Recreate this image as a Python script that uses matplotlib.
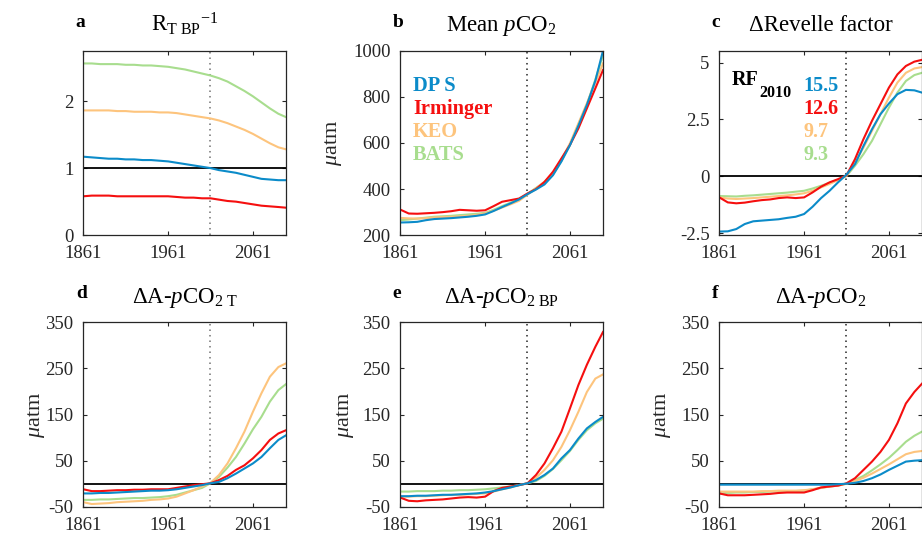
import matplotlib.pyplot as plt

plt.rcParams['font.family'] = 'Liberation Serif'
plt.rcParams['mathtext.fontset'] = 'custom'
plt.rcParams['mathtext.rm'] = 'Liberation Serif'
plt.rcParams['mathtext.it'] = 'Liberation Serif:italic'
plt.rcParams['mathtext.bf'] = 'Liberation Serif:bold'
plt.rcParams['axes.unicode_minus'] = False

# years of the model output (read every 10 yr)
years = [1861, 1871, 1881, 1891, 1901, 1911, 1921, 1931, 1941, 1951, 1961, 1971,
         1981, 1991, 2001, 2011, 2021, 2031, 2041, 2051, 2061, 2071, 2081, 2091, 2100]

sites = ['DP S', 'Irminger', 'KEO', 'BATS']
site_colors = ['#0b8bc9', '#f50f0f', '#fdc47d', '#a8dd8e']
rf2010 = ['15.5', '12.6', '9.7', '9.3']

# a: R_T BP^-1
a_dps = [1.17, 1.16, 1.15, 1.14, 1.14, 1.13, 1.13, 1.12, 1.12, 1.11, 1.10, 1.08,
         1.06, 1.04, 1.02, 1.00, 0.97, 0.95, 0.93, 0.90, 0.87, 0.84, 0.83, 0.82, 0.82]
a_irm = [0.58, 0.59, 0.59, 0.59, 0.58, 0.58, 0.58, 0.58, 0.58, 0.58, 0.58, 0.57,
         0.56, 0.56, 0.55, 0.55, 0.53, 0.51, 0.50, 0.48, 0.46, 0.44, 0.43, 0.42, 0.41]
a_keo = [1.86, 1.86, 1.86, 1.86, 1.85, 1.85, 1.84, 1.84, 1.84, 1.83, 1.83, 1.82,
         1.80, 1.78, 1.76, 1.74, 1.71, 1.67, 1.62, 1.57, 1.51, 1.44, 1.37, 1.31, 1.28]
a_bats = [2.56, 2.56, 2.55, 2.55, 2.55, 2.54, 2.54, 2.53, 2.53, 2.52, 2.51, 2.49,
          2.47, 2.44, 2.41, 2.38, 2.34, 2.29, 2.22, 2.15, 2.07, 1.98, 1.89, 1.81, 1.76]

# b: mean pCO2
b_dps = [255, 256, 258, 265, 270, 272, 274, 277, 280, 284, 290, 305,
         322, 338, 355, 378, 398, 420, 460, 520, 590, 675, 765, 870, 1000]
b_irm = [311, 294, 293, 295, 297, 300, 304, 310, 308, 306, 308, 326,
         345, 352, 359, 381, 400, 431, 475, 533, 591, 663, 750, 837, 916]
b_keo = [275, 273, 272, 274, 277, 279, 280, 282, 284, 288, 294, 306,
         320, 334, 349, 376, 403, 432, 468, 528, 598, 685, 772, 862, 945]
b_bats = [265, 268, 272, 276, 280, 282, 284, 287, 290, 293, 297, 310,
          326, 341, 356, 379, 405, 430, 463, 522, 591, 680, 767, 875, 981]

# c: delta Revelle factor
c_dps = [-2.42, -2.41, -2.31, -2.09, -1.97, -1.94, -1.91, -1.88, -1.82, -1.77, -1.65, -1.33,
         -0.95, -0.63, -0.26, 0.08, 0.54, 1.34, 2.07, 2.73, 3.20, 3.61, 3.80, 3.78, 3.68]
c_irm = [-0.92, -1.14, -1.18, -1.15, -1.09, -1.04, -1.01, -0.95, -0.92, -0.95, -0.92, -0.70,
         -0.45, -0.26, -0.12, 0.05, 0.76, 1.64, 2.44, 3.17, 3.90, 4.48, 4.85, 5.04, 5.12]
c_keo = [-0.92, -0.97, -0.99, -0.97, -0.95, -0.92, -0.89, -0.86, -0.83, -0.79, -0.74, -0.63,
         -0.48, -0.33, -0.16, 0.03, 0.61, 1.27, 2.00, 2.73, 3.46, 4.12, 4.55, 4.74, 4.80]
c_bats = [-0.86, -0.87, -0.88, -0.85, -0.83, -0.80, -0.77, -0.74, -0.71, -0.67, -0.63, -0.53,
          -0.41, -0.28, -0.15, 0.02, 0.47, 0.98, 1.56, 2.29, 3.02, 3.68, 4.19, 4.45, 4.55]

# d: delta A-pCO2 T
d_dps = [-21, -21, -20, -20, -19, -18, -17, -16, -15, -15, -14, -12,
         -9, -6, -3, 1, 4, 12, 22, 33, 44, 58, 77, 95, 105]
d_irm = [-12, -16, -16, -15, -14, -14, -13, -13, -12, -12, -12, -9,
         -6, -3, -1, 1, 8, 17, 30, 40, 55, 73, 95, 109, 116]
d_keo = [-40, -44, -43, -42, -40, -39, -38, -37, -35, -34, -32, -28,
         -21, -14, -6, 2, 19, 44, 77, 113, 156, 196, 232, 253, 261]
d_bats = [-35, -35, -34, -34, -33, -32, -31, -31, -30, -29, -27, -24,
          -19, -14, -9, 1, 15, 35, 58, 87, 118, 145, 178, 203, 216]

# e: delta A-pCO2 BP
e_dps = [-27, -27, -26, -26, -25, -24, -24, -23, -22, -21, -19, -16,
         -12, -8, -3, 1, 8, 19, 33, 55, 73, 98, 120, 134, 145]
e_irm = [-30, -37, -38, -36, -35, -34, -32, -30, -29, -30, -28, -16,
         -9, -6, -3, 1, 19, 44, 77, 113, 163, 214, 258, 297, 329]
e_keo = [-28, -28, -27, -27, -26, -25, -24, -24, -23, -22, -21, -17,
         -12, -8, -3, 1, 13, 30, 51, 80, 116, 156, 199, 228, 237]
e_bats = [-17, -17, -16, -16, -16, -15, -15, -14, -14, -13, -12, -10,
          -8, -6, -3, 1, 6, 17, 32, 51, 71, 95, 116, 131, 141]

# f: delta A-pCO2
f_dps = [-2, -2, -2, -2, -2, -2, -2, -2, -2, -2, -2, -2,
         -2, -2, -1, 0, 2, 6, 12, 20, 30, 39, 48, 50, 51]
f_irm = [-21, -25, -25, -25, -24, -23, -22, -20, -19, -19, -19, -14,
         -8, -6, -4, 1, 12, 30, 48, 69, 95, 131, 174, 199, 217]
f_keo = [-17, -17, -17, -17, -17, -16, -16, -15, -15, -15, -14, -12,
         -9, -6, -4, 0, 6, 13, 22, 32, 42, 53, 64, 69, 71]
f_bats = [-21, -20, -19, -19, -18, -18, -17, -17, -16, -16, -15, -12,
          -9, -6, -4, 0, 8, 17, 29, 42, 56, 73, 91, 104, 113]

dapco2_ticks = [-50, 50, 150, 250, 350]

panels = [
    dict(letter='a', title=r'R$_{\mathrm{T\ BP}}$$^{\mathrm{-1}}$',
         series=[a_dps, a_irm, a_keo, a_bats], ylim=(0, 2.75),
         yticks=[0, 1, 2], yticklabels=['0', '1', '2'], hline=1, ylabel=None,
         dotcolor='0.45', pos=(83.3, 50.7)),
    dict(letter='b', title=r'Mean $p$CO$_2$',
         series=[b_dps, b_irm, b_keo, b_bats], ylim=(200, 1000),
         yticks=[200, 400, 600, 800, 1000], yticklabels=None, hline=None,
         ylabel=333, dotcolor='0.15', pos=(400.3, 50.7)),
    dict(letter='c', title='ΔRevelle factor',
         series=[c_dps, c_irm, c_keo, c_bats], ylim=(-2.58, 5.52),
         yticks=[-2.5, 0, 2.5, 5], yticklabels=['-2.5', '0', '2.5', '5'], hline=0,
         ylabel=None, dotcolor='0.15', pos=(719.3, 50.7)),
    dict(letter='d', title=r'ΔA-$p$CO$_{2\ \mathrm{T}}$',
         series=[d_dps, d_irm, d_keo, d_bats], ylim=(-50, 350),
         yticks=dapco2_ticks, yticklabels=None, hline=0, ylabel=36,
         dotcolor='0.45', pos=(83.3, 322.3)),
    dict(letter='e', title=r'ΔA-$p$CO$_{2\ \mathrm{BP}}$',
         series=[e_dps, e_irm, e_keo, e_bats], ylim=(-50, 350),
         yticks=dapco2_ticks, yticklabels=None, hline=0, ylabel=345,
         dotcolor='0.15', pos=(400.3, 322.3)),
    dict(letter='f', title=r'ΔA-$p$CO$_2$',
         series=[f_dps, f_irm, f_keo, f_bats], ylim=(-50, 350),
         yticks=dapco2_ticks, yticklabels=None, hline=0, ylabel=662,
         dotcolor='0.15', pos=(719.3, 322.3)),
]

W, H = 922, 541
AX_W, AX_H = 202.7, 184.5
dark = '#262626'

fig = plt.figure(figsize=(W / 100, H / 100), dpi=100)

for p in panels:
    left, top = p['pos']
    ax = fig.add_axes([left / W, 1 - (top + AX_H) / H, AX_W / W, AX_H / H])

    ax.axvline(2010, color=p['dotcolor'], linestyle=(0, (1, 2.6)), linewidth=1.1)
    if p['hline'] is not None:
        ax.axhline(p['hline'], color='black', linewidth=1.3)

    # draw BATS first, DP S last (on top)
    for vals, col in reversed(list(zip(p['series'], site_colors))):
        ax.plot(years, vals, color=col, linewidth=1.5)

    ax.set_xlim(1861, 2100)
    ax.set_ylim(p['ylim'])
    ax.set_xticks([1861, 1961, 2061])
    ax.set_yticks(p['yticks'])
    if p['yticklabels'] is not None:
        ax.set_yticklabels(p['yticklabels'])

    ax.tick_params(direction='in', top=True, right=True, length=3, width=0.8,
                   color=dark, labelcolor=dark, labelsize=13.5)
    ax.tick_params(axis='x', pad=7)
    ax.tick_params(axis='y', pad=7)
    for s in ax.spines.values():
        s.set_color(dark)
        s.set_linewidth(0.9)

    ax.set_title(p['title'], fontsize=16.5, pad=14)
    if p['ylabel'] is not None:
        ax.set_ylabel(r'$\mu$atm', fontsize=16, color=dark, va='center')
        ax.yaxis.set_label_coords((p['ylabel'] - left) / AX_W, 0.5)

    fig.text((left - 7.5) / W, 1 - (top - 24) / H, p['letter'],
             fontsize=14, fontweight='bold', va='baseline')

    if p['letter'] == 'b':
        for i, (name, col) in enumerate(zip(sites, site_colors)):
            ax.text(0.063, 0.783 - 0.125 * i, name, color=col, fontsize=14.7,
                    fontweight='bold', transform=ax.transAxes, va='baseline')
    if p['letter'] == 'c':
        ax.text(0.063, 0.814, 'RF', fontsize=14.5, fontweight='bold',
                transform=ax.transAxes, va='baseline')
        ax.text(0.2, 0.749, '2010', fontsize=11.5, fontweight='bold',
                transform=ax.transAxes, va='baseline')
        for i, (num, col) in enumerate(zip(rf2010, site_colors)):
            ax.text(0.413, 0.783 - 0.125 * i, num, color=col, fontsize=14.5,
                    fontweight='bold', transform=ax.transAxes, va='baseline')

fig.savefig('out.png', dpi=100)
